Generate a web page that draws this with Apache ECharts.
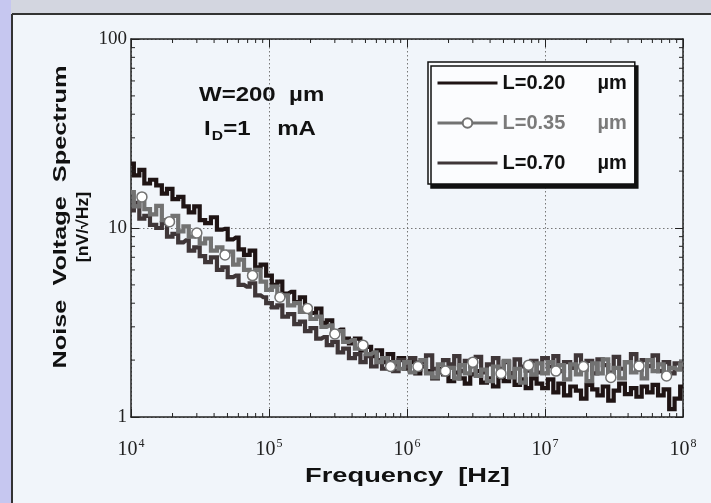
<!DOCTYPE html>
<html>
<head>
<meta charset="utf-8">
<script src="https://cdn.jsdelivr.net/npm/echarts@6/dist/echarts.min.js"></script>
<style>
  html, body { margin: 0; padding: 0; background: #eef3f9; }
  #chart { width: 711px; height: 503px; }
</style>
</head>
<body>
<div id="chart"></div>
<script>
// frequency grid [Hz]
var freq = [
  1.0e4, 1.1e4, 1.2e4, 1.3e4, 1.45e4, 1.6e4, 1.75e4, 1.9e4, 2.1e4, 2.3e4, 2.5e4, 2.75e4, 3.0e4, 3.3e4, 3.6e4, 4.0e4, 4.4e4, 4.8e4, 5.25e4, 5.75e4, 6.3e4, 6.9e4, 7.6e4, 8.3e4, 9.1e4,
  1.0e5, 1.1e5, 1.2e5, 1.3e5, 1.45e5, 1.6e5, 1.75e5, 1.9e5, 2.1e5, 2.3e5, 2.5e5, 2.75e5, 3.0e5, 3.3e5, 3.6e5, 4.0e5, 4.4e5, 4.8e5, 5.25e5, 5.75e5, 6.3e5, 6.9e5, 7.6e5, 8.3e5, 9.1e5,
  1.0e6, 1.1e6, 1.2e6, 1.3e6, 1.45e6, 1.6e6, 1.75e6, 1.9e6, 2.1e6, 2.3e6, 2.5e6, 2.75e6, 3.0e6, 3.3e6, 3.6e6, 4.0e6, 4.4e6, 4.8e6, 5.25e6, 5.75e6, 6.3e6, 6.9e6, 7.6e6, 8.3e6, 9.1e6,
  1.0e7, 1.1e7, 1.2e7, 1.3e7, 1.45e7, 1.6e7, 1.75e7, 1.9e7, 2.1e7, 2.3e7, 2.5e7, 2.75e7, 3.0e7, 3.3e7, 3.6e7, 4.0e7, 4.4e7, 4.8e7, 5.25e7, 5.75e7, 6.3e7, 6.9e7, 7.6e7, 8.3e7, 9.1e7,
  1.0e8
];

// noise voltage [nV/sqrt(Hz)]
var noiseL020 = [
  21.9, 19.0, 20.3, 17.2, 18.0, 16.8, 15.2, 16.1, 14.2, 14.6, 13.0, 12.1, 13.0, 11.0, 10.6, 11.4, 9.8, 9.9, 8.7, 8.9, 7.7, 7.2, 7.6, 6.2, 6.4,
  5.6, 5.0, 5.2, 4.5, 4.6, 4.05, 4.3, 3.7, 3.55, 3.75, 3.15, 3.25, 2.85, 2.9, 2.6, 2.45, 2.6, 2.25, 2.35, 2.1, 2.25, 1.95, 2.15, 1.9, 2.05,
  1.8, 1.95, 1.7, 1.85, 1.75, 1.6, 1.8, 1.68, 1.55, 1.72, 1.6, 1.5, 1.68, 1.75, 1.52, 1.6, 1.45, 1.62, 1.55, 1.7, 1.48, 1.58, 1.42, 1.6, 1.5,
  1.42, 1.58, 1.35, 1.5, 1.3, 1.45, 1.38, 1.25, 1.48, 1.4, 1.3, 1.45, 1.22, 1.38, 1.5, 1.32, 1.42, 1.28, 1.45, 1.35, 1.48, 1.3, 1.4, 1.1, 1.25,
  1.45
];
var noiseL035 = [
  15.5, 13.0, 14.6, 12.6, 11.8, 13.1, 11.0, 10.8, 11.6, 9.6, 10.2, 9.0, 9.4, 8.3, 8.8, 7.6, 7.9, 7.2, 7.5, 6.4, 6.8, 6.0, 5.6, 6.0, 5.2,
  4.7, 4.9, 4.3, 4.4, 3.9, 4.0, 3.6, 3.75, 3.3, 3.4, 3.0, 3.05, 2.75, 2.85, 2.5, 2.55, 2.3, 2.4, 2.15, 2.2, 1.95, 2.05, 1.85, 1.95, 1.8,
  1.95, 1.72, 1.85, 2.0, 1.7, 1.62, 1.9, 1.75, 1.82, 1.6, 1.88, 1.7, 1.95, 1.65, 1.78, 1.55, 1.85, 1.7, 1.98, 1.62, 1.8, 1.52, 1.88, 1.68, 1.92,
  1.7, 1.95, 1.75, 1.88, 1.58, 1.9, 1.68, 1.85, 1.55, 1.92, 1.7, 2.02, 1.62, 1.82, 1.6, 1.95, 1.72, 1.86, 1.6, 2.0, 1.75, 1.9, 1.65, 1.82, 1.78,
  1.9
];
var noiseL070 = [
  12.4, 13.6, 11.2, 11.6, 10.4, 10.0, 10.6, 9.0, 9.3, 8.4, 8.6, 7.6, 7.9, 7.1, 6.6, 7.0, 6.0, 6.2, 5.5, 5.6, 5.0, 4.9, 5.1, 4.4, 4.3,
  4.0, 3.8, 3.9, 3.4, 3.5, 3.1, 3.2, 2.85, 2.95, 2.6, 2.65, 2.4, 2.5, 2.2, 2.3, 2.05, 2.15, 1.95, 2.1, 1.85, 2.0, 1.8, 1.95, 1.75, 2.0,
  1.85, 2.05, 1.78, 1.95, 2.12, 1.8, 1.72, 2.0, 1.9, 2.1, 1.75, 1.98, 1.85, 2.08, 1.72, 1.9, 2.05, 1.8, 1.95, 1.7, 2.02, 1.85, 1.76, 1.98, 1.72,
  2.05, 1.85, 2.1, 1.75, 1.95, 1.82, 2.12, 1.78, 1.98, 1.7, 2.02, 1.88, 1.72, 2.08, 1.8, 1.95, 2.15, 1.78, 2.0, 1.86, 2.12, 1.75, 1.95, 1.7, 1.92,
  1.8
];

var seriesNames = ['L=0.20', 'L=0.35', 'L=0.70'];
var xExponents = [4, 5, 6, 7, 8];
var yTickLabels = ['1', '10', '100'];
// minor tick mantissas for the log axes
var minorMantissa = [2, 3, 4, 5, 6, 7, 8, 9];
var xDecades = [1e4, 1e5, 1e6, 1e7];
var yDecades = [1, 10];

function pairs(vals) {
  return freq.map(function (f, i) { return [f, vals[i]]; });
}

var xMinor = [];
xDecades.forEach(function (d) {
  minorMantissa.forEach(function (m) { xMinor.push([d * m, 1]); });
});
var yMinor = [];
yDecades.forEach(function (d) {
  minorMantissa.forEach(function (m) { yMinor.push([1e4, d * m]); });
});

var chart = echarts.init(document.getElementById('chart'));

var serifFont = '"Liberation Serif", "DejaVu Serif", serif';
var sansFont = '"Liberation Sans", Arial, sans-serif';

var option = {
  backgroundColor: '#f1f5fa',
  animation: false,
  grid: { left: 131, right: 28, top: 39, bottom: 86 },
  xAxis: [
    {
      type: 'log', logBase: 10, min: 1e4, max: 1e8,
      axisLine: { lineStyle: { color: '#222', width: 1.5 } },
      axisTick: { inside: true, length: 8, lineStyle: { color: '#222' } },
      splitLine: { show: true, lineStyle: { color: '#777', type: [1.5, 2.5], width: 1 } },
      axisLabel: {
        margin: 21,
        color: '#222',
        formatter: function (v) {
          var e = Math.round(Math.log10(v));
          return xExponents.indexOf(e) >= 0 ? '{b|10}{s|' + e + '}' : '';
        },
        rich: {
          b: { fontFamily: serifFont, fontSize: 20, color: '#222' },
          s: { fontFamily: serifFont, fontSize: 12, color: '#222', padding: [0, 0, 12, 1] }
        }
      }
    },
    {
      type: 'log', logBase: 10, min: 1e4, max: 1e8, position: 'top',
      axisLine: { lineStyle: { color: '#222', width: 1.5 } },
      axisTick: { inside: true, length: 8, lineStyle: { color: '#222' } },
      axisLabel: { show: false },
      splitLine: { show: false }
    }
  ],
  yAxis: [
    {
      type: 'log', logBase: 10, min: 1, max: 100,
      axisLine: { show: true, lineStyle: { color: '#222', width: 1.5 } },
      axisTick: { show: true, inside: true, length: 8, lineStyle: { color: '#222' } },
      splitLine: { show: true, lineStyle: { color: '#777', type: [1.5, 2.5], width: 1 } },
      axisLabel: {
        margin: 4,
        color: '#222',
        fontFamily: serifFont,
        fontSize: 19,
        formatter: function (v) {
          var i = Math.round(Math.log10(v));
          return yTickLabels[i] || '';
        }
      }
    },
    {
      type: 'log', logBase: 10, min: 1, max: 100, position: 'right',
      axisLine: { show: true, lineStyle: { color: '#222', width: 1.5 } },
      axisTick: { show: true, inside: true, length: 8, lineStyle: { color: '#222' } },
      axisLabel: { show: false },
      splitLine: { show: false }
    }
  ],
  legend: {
    orient: 'vertical',
    left: 428, top: 62,
    padding: [11, 8, 11, 8],
    itemWidth: 60, itemHeight: 12, itemGap: 20,
    backgroundColor: '#fbfcfe',
    borderColor: '#111', borderWidth: 1.5,
    shadowColor: '#111', shadowBlur: 0, shadowOffsetX: 3, shadowOffsetY: 4,
    lineStyle: { width: 3 },
    data: [
      { name: seriesNames[0], itemStyle: { opacity: 0 } },
      { name: seriesNames[1], textStyle: { color: '#7a7a7a' } },
      { name: seriesNames[2], itemStyle: { opacity: 0 } }
    ],
    formatter: function (name) { return '{a|' + name + '}{b|µm}'; },
    textStyle: {
      color: '#111', fontFamily: sansFont, fontWeight: 'bold', fontSize: 20,
      rich: {
        a: { fontFamily: sansFont, fontWeight: 'bold', fontSize: 20, width: 95 },
        b: { fontFamily: sansFont, fontWeight: 'bold', fontSize: 20 }
      }
    }
  },
  graphic: [
    { type: 'rect', left: 0, top: 0, shape: { width: 711, height: 14 }, style: { fill: '#d3d6e0' }, silent: true },
    { type: 'rect', left: 0, top: 0, shape: { width: 11, height: 503 }, style: { fill: '#c6c7f0' }, silent: true },
    { type: 'line', shape: { x1: 12, y1: 14, x2: 12, y2: 503 }, style: { stroke: '#333', lineWidth: 2 }, silent: true },
    { type: 'line', shape: { x1: 12, y1: 14, x2: 711, y2: 14 }, style: { stroke: '#333', lineWidth: 2 }, silent: true },
    {
      type: 'text', x: 199, y: 85, scaleX: 1.2,
      style: { text: 'W=200  µm', font: 'bold 20px ' + sansFont, fill: '#111' }
    },
    {
      type: 'text', x: 204, y: 116, scaleX: 1.2,
      style: {
        text: '{i|I}{d|D}{i|=1    mA}',
        fill: '#111',
        rich: {
          i: { font: 'bold 20px ' + sansFont, fill: '#111' },
          d: { font: 'bold 13px ' + sansFont, fill: '#111', padding: [14, 0, 0, 1] }
        }
      }
    },
    {
      type: 'text', x: 61, y: 217, rotation: Math.PI / 2, scaleX: 1.33,
      style: {
        text: 'Noise  Voltage  Spectrum', font: 'bold 19px ' + sansFont, fill: '#111',
        align: 'center', verticalAlign: 'middle'
      }
    },
    {
      type: 'text', x: 84, y: 227, rotation: Math.PI / 2, scaleX: 1.1,
      style: {
        text: '[nV/\u221AHz]', font: 'bold 16px ' + sansFont, fill: '#111',
        align: 'center', verticalAlign: 'middle'
      }
    },
    {
      type: 'text', x: 305, y: 466, scaleX: 1.3,
      style: { text: 'Frequency  [Hz]', font: 'bold 21px ' + sansFont, fill: '#111' }
    }
  ],
  series: [
    {
      name: seriesNames[0], type: 'line', step: 'middle',
      data: pairs(noiseL020), symbol: 'none',
      lineStyle: { color: '#1f1414', width: 4.2, join: 'miter' }, itemStyle: { color: '#1f1414' }
    },
    {
      name: seriesNames[2], type: 'line', step: 'middle',
      data: pairs(noiseL070), symbol: 'none',
      lineStyle: { color: '#3f3638', width: 4.2, join: 'miter' }, itemStyle: { color: '#3f3638' }
    },
    {
      name: seriesNames[1], type: 'line', step: 'middle',
      data: pairs(noiseL035), symbol: 'circle', showAllSymbol: true,
      symbolSize: function (val, p) { return p.dataIndex % 5 === 2 ? 10 : 0; },
      lineStyle: { color: '#727272', width: 4.2, join: 'miter' },
      itemStyle: { color: '#ffffff', borderColor: '#727272', borderWidth: 1.5 }
    },
    {
      type: 'custom', silent: true, clip: false, z: 5,
      data: xMinor,
      renderItem: function (params, api) {
        var b = api.coord([api.value(0), 1]);
        var t = api.coord([api.value(0), 100]);
        var s = { stroke: '#222', lineWidth: 1 };
        return {
          type: 'group', children: [
            { type: 'line', shape: { x1: b[0], y1: b[1], x2: b[0], y2: b[1] - 4 }, style: s },
            { type: 'line', shape: { x1: t[0], y1: t[1], x2: t[0], y2: t[1] + 4 }, style: s }
          ]
        };
      }
    },
    {
      type: 'custom', silent: true, clip: false, z: 5,
      data: yMinor,
      renderItem: function (params, api) {
        var l = api.coord([1e4, api.value(1)]);
        var r = api.coord([1e8, api.value(1)]);
        var s = { stroke: '#222', lineWidth: 1 };
        return {
          type: 'group', children: [
            { type: 'line', shape: { x1: l[0], y1: l[1], x2: l[0] + 4, y2: l[1] }, style: s },
            { type: 'line', shape: { x1: r[0], y1: r[1], x2: r[0] - 4, y2: r[1] }, style: s }
          ]
        };
      }
    }
  ]
};

chart.setOption(option);
</script>
</body>
</html>
